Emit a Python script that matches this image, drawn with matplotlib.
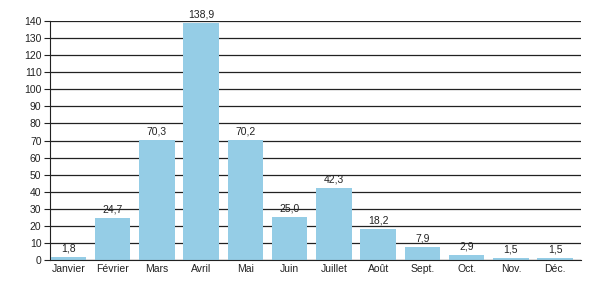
import matplotlib
matplotlib.use('Agg')
import matplotlib.pyplot as plt

plt.rcParams['font.family'] = ['Liberation Sans', 'DejaVu Sans']

mois = ['Janvier', 'Février', 'Mars', 'Avril', 'Mai', 'Juin', 'Juillet',
        'Août', 'Sept.', 'Oct.', 'Nov.', 'Déc.']
valeurs = [1.8, 24.7, 70.3, 138.9, 70.2, 25.0, 42.3, 18.2, 7.9, 2.9, 1.5, 1.5]
yticks = list(range(0, 141, 10))

fig = plt.figure(figsize=(6, 3), dpi=100)
ax = fig.add_axes([0.083, 0.133, 0.885, 0.797])

x = range(len(mois))
bars = ax.bar(x, valeurs, width=0.8, color='#95cde6', zorder=3)

# étiquettes de valeur au-dessus des barres
for b, v in zip(bars, valeurs):
    ax.text(b.get_x() + b.get_width() / 2, v + 2, f'{v:.1f}'.replace('.', ','),
            ha='center', va='bottom', fontsize=7.5, color='#222222')

ax.set_xlim(-0.42, 11.58)
ax.set_ylim(0, 140)
ax.set_yticks(yticks)
ax.set_xticks(list(x))
ax.set_xticklabels(mois)
ax.tick_params(axis='both', labelsize=7.5, colors='#222222')
ax.tick_params(axis='x', length=0, pad=3)
ax.tick_params(axis='y', length=4, width=0.8, pad=2)
ax.yaxis.grid(True, color='#222222', linewidth=0.9, zorder=0)

for s in ['top', 'right']:
    ax.spines[s].set_visible(False)
ax.spines['left'].set_color('#222222')
ax.spines['bottom'].set_color('#222222')
ax.spines['bottom'].set_zorder(4)

fig.savefig('out.png')
